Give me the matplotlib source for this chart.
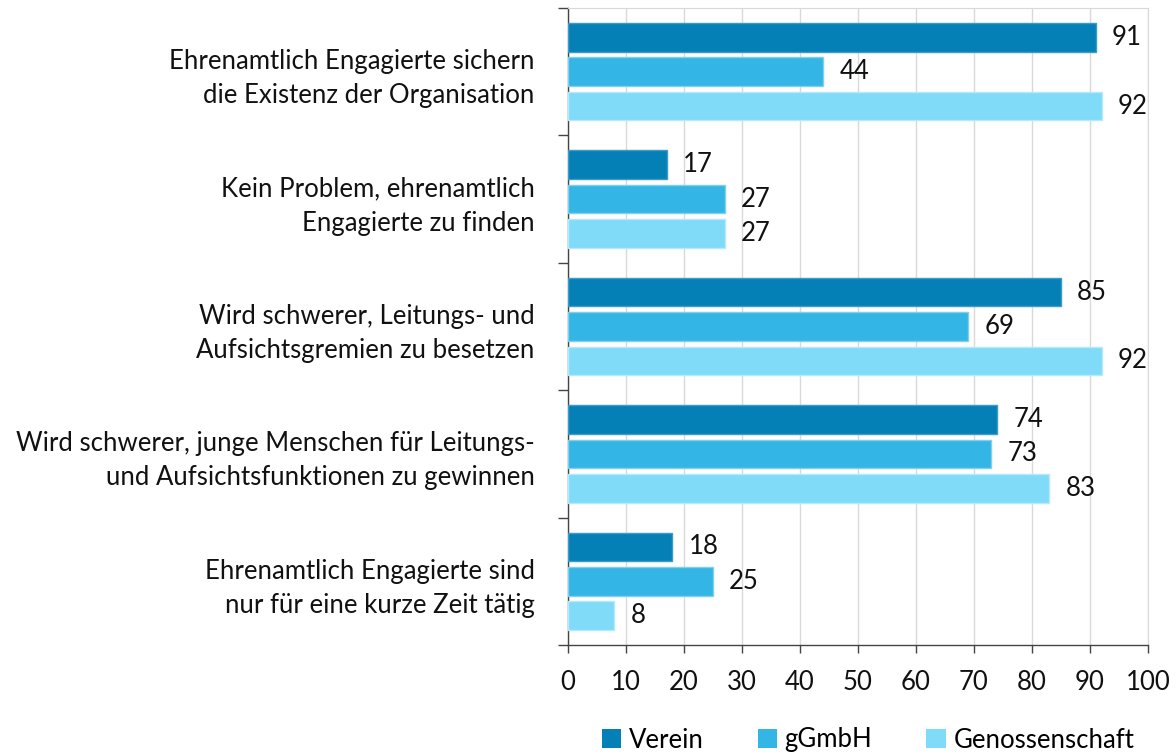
import matplotlib
matplotlib.use("Agg")
import matplotlib.pyplot as plt
import numpy as np
from matplotlib.patches import Patch

plt.rcParams['font.family'] = ['Lato', 'DejaVu Sans']

categories = [
    "Ehrenamtlich Engagierte sichern\ndie Existenz der Organisation",
    "Kein Problem, ehrenamtlich\nEngagierte zu finden",
    "Wird schwerer, Leitungs- und\nAufsichtsgremien zu besetzen",
    "Wird schwerer, junge Menschen für Leitungs-\nund Aufsichtsfunktionen zu gewinnen",
    "Ehrenamtlich Engagierte sind\nnur für eine kurze Zeit tätig",
]
series_names = ["Verein", "gGmbH", "Genossenschaft"]
verein = [91, 17, 85, 74, 18]
ggmbh = [44, 27, 69, 73, 25]
genossenschaft = [92, 27, 92, 83, 8]
xticks = list(range(0, 101, 10))

colors = ["#0580B6", "#33B5E5", "#80DBF9"]
edges = ["#3a9cc8", "#7fd0ee", "#b5eafc"]

FS = 18.5

fig = plt.figure(figsize=(11.76, 7.55), dpi=100)
ax = fig.add_axes([568/1176, 1-645/755, 580/1176, 637/755])

n = len(categories)
centers = np.arange(n)
offsets = [-0.27, 0.0, 0.27]
h = 0.225
for vals, off, c, ec, name in zip([verein, ggmbh, genossenschaft], offsets, colors, edges, series_names):
    ys = centers + off
    ax.barh(ys, vals, height=h, color=c, edgecolor=ec, linewidth=1.0, label=name, zorder=3)
    for y, v in zip(ys, vals):
        ax.text(v + 2.8, y, str(v), va='center', ha='left', fontsize=FS, color='#111111', zorder=4)

ax.set_xlim(0, 100)
ax.set_ylim(n - 0.5, -0.5)
ax.set_xticks(xticks)
ax.set_xticklabels([str(t) for t in xticks], fontsize=FS, color='#111111')
ax.tick_params(axis='x', direction='out', length=6, width=1, color='#444444', pad=12)

ax.set_yticks(np.arange(-0.5, n, 1.0))
ax.set_yticklabels([])
ax.tick_params(axis='y', which='major', direction='out', length=7, width=1, color='#444444')
ax.set_yticks(centers, minor=True)
ax.set_yticklabels(categories, minor=True, fontsize=FS, color='#111111', ha='right', linespacing=1.45)
ax.tick_params(axis='y', which='minor', length=0, pad=24)

ax.grid(axis='x', color='#D9D9D9', linewidth=1.0, zorder=0)
ax.set_axisbelow(True)
for s in ['top', 'right']:
    ax.spines[s].set_color('#D9D9D9')
for s in ['left', 'bottom']:
    ax.spines[s].set_color('#444444')
    ax.spines[s].set_linewidth(1.0)

handles = [Patch(facecolor=c, edgecolor='none') for c in colors]
fig.legend(handles, series_names, loc='center', bbox_to_anchor=(868/1176, 1-740/755),
           ncol=3, frameon=False, fontsize=FS, handlelength=0.75, handleheight=0.75,
           handletextpad=0.3, columnspacing=2.1)

fig.savefig("out.png", dpi=100)
